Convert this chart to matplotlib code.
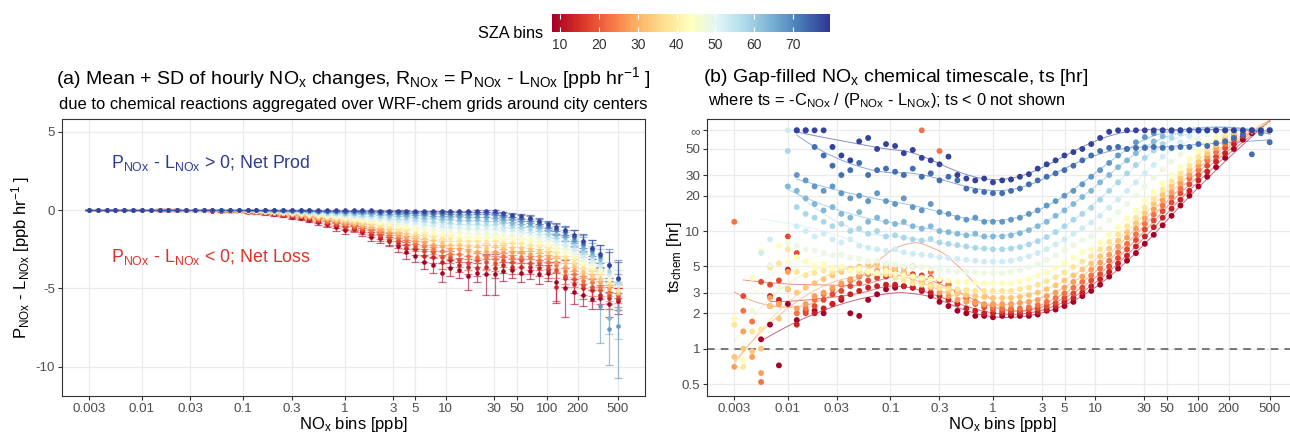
import numpy as np
import matplotlib
matplotlib.use("Agg")
import matplotlib.pyplot as plt
from matplotlib.colors import Normalize
from matplotlib.cm import ScalarMappable
from matplotlib.ticker import FixedLocator, NullLocator

plt.rcParams["font.family"] = ["Liberation Sans", "DejaVu Sans"]
plt.rcParams["mathtext.fontset"] = "custom"
plt.rcParams["mathtext.rm"] = "Liberation Sans"
plt.rcParams["mathtext.it"] = "Liberation Sans:italic"
plt.rcParams["mathtext.bf"] = "Liberation Sans:bold"

# NOx bin centres [ppb]
nox_bins = [0.003, 0.00367, 0.00448, 0.00547, 0.00669, 0.00817, 0.00998, 0.0122, 0.0149, 0.0182,
            0.0223, 0.0272, 0.0332, 0.0406, 0.0496, 0.0606, 0.0741, 0.0905, 0.111, 0.135,
            0.165, 0.202, 0.247, 0.301, 0.368, 0.450, 0.550, 0.672, 0.821, 1.00,
            1.23, 1.50, 1.83, 2.24, 2.73, 3.34, 4.08, 4.98, 6.09, 7.44,
            9.09, 11.1, 13.6, 16.6, 20.3, 24.8, 30.3, 37.0, 45.2, 55.2,
            67.4, 82.4, 101, 123, 150, 184, 224, 274, 335, 410, 500]

sza_bins = [8, 13, 18, 23, 28, 33, 38, 43, 48, 53, 58, 63, 68, 73, 78]

# (a) mean P - L [ppb/hr] per SZA bin
rate_sza08 = [0.0] * 8 + [-0.01, -0.01, -0.01, -0.02, -0.02, -0.03, -0.04, -0.05, -0.07, -0.09, -0.12, -0.15, -0.2, -0.26, -0.33, -0.42, -0.5, -0.62, -0.75, -0.9, -1.1, -1.25, -1.15, -1.4, -1.7, -1.8, -2.0, -2.3, -2.7, -2.9, -3.3, -3.5, -4.0, -3.7, -3.8, -4.2, -4.0, -4.1, -4.1, -3.9, -3.8, -4.0, -3.9, -4.1, -4.0, -4.6, -5.0, -5.2, -5.4, -5.7, -5.6, -6.0, -5.8]
rate_sza13 = [0.0] * 8 + [-0.01, -0.01, -0.01, -0.02, -0.02, -0.03, -0.04, -0.05, -0.06, -0.08, -0.11, -0.14, -0.18, -0.23, -0.3, -0.36, -0.45, -0.56, -0.68, -0.81, -0.95, -1.1, -1.2, -1.35, -1.5, -1.7, -1.9, -2.1, -2.4, -2.5, -2.9, -3.0, -3.3, -3.2, -3.5, -3.6, -3.7, -3.6, -3.7, -3.5, -3.6, -3.6, -3.6, -3.7, -3.8, -4.9, -4.3, -4.7, -5.0, -5.1, -5.4, -5.6, -5.7]
rate_sza18 = [0.0] * 8 + [-0.01, -0.01, -0.01, -0.02, -0.02, -0.02, -0.03, -0.04, -0.06, -0.07, -0.1, -0.12, -0.16, -0.21, -0.27, -0.33, -0.41, -0.51, -0.62, -0.74, -0.86, -1.0, -1.1, -1.2, -1.4, -1.6, -1.7, -1.9, -2.2, -2.3, -2.6, -2.7, -3.0, -3.0, -3.2, -3.4, -3.2, -3.3, -3.4, -3.2, -3.3, -3.2, -3.4, -3.4, -3.6, -3.8, -4.2, -4.4, -4.8, -4.9, -5.1, -5.4, -5.5]
rate_sza23 = [0.0] * 8 + [-0.01, -0.01, -0.01, -0.01, -0.01, -0.02, -0.03, -0.04, -0.05, -0.07, -0.09, -0.11, -0.15, -0.19, -0.24, -0.3, -0.37, -0.46, -0.56, -0.67, -0.78, -0.9, -1.0, -1.1, -1.3, -1.4, -1.6, -1.7, -1.9, -2.1, -2.3, -2.5, -2.6, -2.8, -2.8, -2.9, -3.0, -3.0, -3.1, -2.9, -3.0, -3.0, -3.0, -3.2, -3.3, -3.5, -3.9, -4.1, -4.5, -4.6, -4.9, -5.2, -5.3]
rate_sza28 = [0.0] * 8 + [0.0, -0.01, -0.01, -0.01, -0.01, -0.02, -0.03, -0.03, -0.05, -0.06, -0.08, -0.1, -0.13, -0.17, -0.22, -0.26, -0.33, -0.41, -0.5, -0.59, -0.69, -0.8, -0.9, -1.0, -1.1, -1.3, -1.4, -1.6, -1.7, -1.9, -2.1, -2.2, -2.3, -2.5, -2.5, -2.6, -2.7, -2.6, -2.7, -2.6, -2.7, -2.7, -2.8, -2.9, -3.0, -3.3, -3.6, -3.8, -4.2, -4.4, -4.6, -5.0, -5.3]
rate_sza33 = [0.0] * 8 + [0.0, 0.0, -0.01, -0.01, -0.01, -0.02, -0.02, -0.03, -0.04, -0.05, -0.07, -0.09, -0.12, -0.15, -0.19, -0.23, -0.29, -0.36, -0.44, -0.52, -0.61, -0.7, -0.8, -0.9, -1.0, -1.1, -1.2, -1.4, -1.5, -1.7, -1.8, -1.9, -2.1, -2.2, -2.2, -2.3, -2.3, -2.4, -2.3, -2.4, -2.4, -2.4, -2.5, -2.6, -2.7, -3.0, -3.3, -3.5, -3.9, -4.2, -4.4, -4.8, -5.2]
rate_sza38 = [0.0] * 8 + [0.0, 0.0, 0.0, -0.01, -0.01, -0.01, -0.02, -0.02, -0.03, -0.04, -0.06, -0.07, -0.1, -0.13, -0.16, -0.2, -0.25, -0.31, -0.38, -0.45, -0.53, -0.6, -0.68, -0.75, -0.85, -0.95, -1.05, -1.2, -1.3, -1.4, -1.6, -1.7, -1.8, -1.8, -1.9, -2.0, -2.0, -2.0, -2.0, -2.1, -2.1, -2.1, -2.2, -2.3, -2.5, -2.7, -3.0, -3.3, -3.6, -3.9, -4.1, -4.6, -5.1]
rate_sza43 = [0.0] * 8 + [0.0, 0.0, 0.0, -0.01, -0.01, -0.01, -0.02, -0.02, -0.03, -0.04, -0.05, -0.06, -0.08, -0.11, -0.14, -0.17, -0.21, -0.26, -0.32, -0.38, -0.44, -0.5, -0.57, -0.63, -0.71, -0.8, -0.88, -1.0, -1.1, -1.2, -1.3, -1.4, -1.5, -1.6, -1.6, -1.7, -1.7, -1.7, -1.7, -1.8, -1.8, -1.9, -1.9, -2.1, -2.2, -2.5, -2.7, -3.0, -3.4, -3.6, -3.9, -4.4, -4.3]
rate_sza48 = [0.0] * 8 + [0.0, 0.0, 0.0, 0.0, -0.01, -0.01, -0.01, -0.02, -0.02, -0.03, -0.04, -0.05, -0.07, -0.09, -0.11, -0.14, -0.17, -0.21, -0.26, -0.31, -0.36, -0.41, -0.46, -0.51, -0.58, -0.65, -0.71, -0.8, -0.88, -0.97, -1.05, -1.1, -1.2, -1.3, -1.3, -1.3, -1.4, -1.4, -1.4, -1.4, -1.5, -1.6, -1.6, -1.8, -1.9, -2.2, -2.4, -2.7, -3.1, -3.4, -3.7, -4.2, -4.8]
rate_sza53 = [0.0] * 8 + [0.0, 0.0, 0.0, 0.0, 0.0, -0.01, -0.01, -0.01, -0.02, -0.02, -0.03, -0.04, -0.05, -0.07, -0.09, -0.11, -0.14, -0.17, -0.2, -0.24, -0.28, -0.32, -0.36, -0.41, -0.46, -0.51, -0.57, -0.63, -0.7, -0.77, -0.84, -0.9, -0.96, -1.0, -1.0, -1.1, -1.1, -1.1, -1.1, -1.2, -1.2, -1.3, -1.4, -1.5, -1.7, -1.9, -2.2, -2.5, -2.9, -3.2, -3.5, -4.1, -4.7]
rate_sza58 = [0.0] * 14 + [-0.01, -0.01, -0.01, -0.02, -0.02, -0.03, -0.04, -0.05, -0.07, -0.08, -0.1, -0.12, -0.15, -0.18, -0.21, -0.24, -0.27, -0.3, -0.34, -0.38, -0.42, -0.47, -0.52, -0.57, -0.62, -0.67, -0.71, -0.74, -0.77, -0.79, -0.8, -0.81, -0.8, -0.9, -1.0, -1.1, -1.2, -1.3, -1.5, -1.7, -1.9, -2.2, -2.6, -2.9, -3.3, -3.9, -4.6]
rate_sza63 = [0.0] * 16 + [-0.01, -0.01, -0.02, -0.02, -0.03, -0.04, -0.05, -0.06, -0.07, -0.09, -0.11, -0.13, -0.15, -0.17, -0.19, -0.21, -0.24, -0.27, -0.29, -0.33, -0.36, -0.4, -0.43, -0.47, -0.5, -0.52, -0.54, -0.55, -0.56, -0.57, -0.6, -0.7, -0.8, -0.9, -0.9, -1.1, -1.3, -1.5, -1.7, -2.0, -2.4, -2.8, -3.1, -6.9, -6.4]
rate_sza68 = [0.0] * 18 + [-0.01, -0.01, -0.02, -0.02, -0.03, -0.04, -0.05, -0.06, -0.07, -0.08, -0.09, -0.11, -0.12, -0.14, -0.15, -0.17, -0.19, -0.21, -0.23, -0.26, -0.28, -0.3, -0.32, -0.33, -0.35, -0.36, -0.36, -0.36, -0.4, -0.5, -0.6, -0.7, -0.8, -0.9, -1.1, -1.3, -1.6, -1.9, -2.2, -2.6, -6.1, -7.6, -7.4]
rate_sza73 = [0.0] * 20 + [-0.01, -0.01, -0.02, -0.02, -0.03, -0.03, -0.04, -0.05, -0.05, -0.06, -0.07, -0.08, -0.09, -0.1, -0.11, -0.12, -0.13, -0.14, -0.16, -0.17, -0.18, -0.19, -0.19, -0.2, -0.2, -0.2, -0.2, -0.3, -0.4, -0.5, -0.6, -0.8, -1.0, -1.2, -1.4, -1.7, -2.1, -2.5, -2.9, -3.5, -4.4]
rate_sza78 = [0.0] * 24 + [-0.01, -0.01, -0.02, -0.02, -0.02, -0.02, -0.03, -0.03, -0.03, -0.04, -0.04, -0.05, -0.05, -0.06, -0.06, -0.07, -0.07, -0.07, -0.08, -0.08, -0.08, -0.08, -0.08, -0.2, -0.3, -0.4, -0.5, -0.7, -0.9, -1.1, -1.3, -1.6, -2.0, -2.4, -2.8, -3.5, -4.3]

# (a) standard deviation per SZA bin
sd_sza08 = [0.03] * 8 + [0.05] * 10 + [0.08, 0.08, 0.1, 0.1, 0.12, 0.12, 0.15, 0.15, 0.18, 0.2, 0.25, 0.25, 0.2, 0.25, 0.3, 0.3, 0.3, 0.35, 0.45, 0.4, 0.45, 0.5, 0.6, 0.5, 0.5, 0.9, 0.6, 1.3, 1.3, 0.6, 0.5, 0.6, 0.5, 0.6, 0.5, 1.3, 1.8, 0.8, 0.7, 0.6, 0.7, 0.8, 0.8]
sd_sza13 = [0.03] * 8 + [0.05] * 10 + [0.08, 0.08, 0.1, 0.1, 0.1, 0.12, 0.12, 0.15, 0.15, 0.18, 0.2, 0.2, 0.2, 0.2, 0.25, 0.3, 0.3, 0.3, 0.35, 0.35, 0.4, 0.4, 0.45, 0.4, 0.45, 0.5, 0.5, 0.5, 0.6, 0.5, 0.5, 0.5, 0.5, 0.5, 0.5, 0.9, 0.6, 0.6, 0.7, 0.7, 0.6, 0.7, 0.7]
sd_sza18 = [0.03] * 8 + [0.05] * 10 + [0.07, 0.08, 0.08, 0.1, 0.1, 0.1, 0.12, 0.12, 0.15, 0.15, 0.18, 0.18, 0.2, 0.2, 0.2, 0.25, 0.25, 0.3, 0.3, 0.3, 0.35, 0.35, 0.4, 0.4, 0.4, 0.45, 0.45, 0.45, 0.5, 0.45, 0.45, 0.45, 0.45, 0.45, 0.5, 0.5, 0.5, 0.5, 0.6, 0.6, 0.6, 0.6, 0.7]
sd_sza23 = [0.03] * 8 + [0.04] * 10 + [0.06, 0.07, 0.08, 0.08, 0.1, 0.1, 0.1, 0.12, 0.12, 0.15, 0.15, 0.15, 0.18, 0.18, 0.2, 0.2, 0.22, 0.25, 0.25, 0.3, 0.3, 0.3, 0.35, 0.35, 0.35, 0.4, 0.4, 0.8, 0.4, 0.4, 0.4, 0.4, 0.4, 0.45, 0.45, 0.45, 0.5, 0.5, 0.5, 0.5, 0.6, 0.6, 0.6]
sd_sza28 = [0.03] * 8 + [0.04] * 10 + [0.05, 0.06, 0.07, 0.08, 0.08, 0.08, 0.1, 0.1, 0.12, 0.12, 0.12, 0.15, 0.15, 0.15, 0.18, 0.18, 0.2, 0.2, 0.22, 0.25, 0.25, 0.3, 0.3, 0.3, 0.3, 0.35, 0.35, 0.35, 0.35, 0.35, 0.35, 0.35, 0.35, 0.4, 0.4, 0.4, 0.45, 0.45, 0.5, 0.5, 0.5, 0.5, 0.6]
sd_sza33 = [0.03] * 8 + [0.04] * 10 + [0.05, 0.05, 0.06, 0.07, 0.07, 0.08, 0.08, 0.1, 0.1, 0.1, 0.12, 0.12, 0.12, 0.15, 0.15, 0.15, 0.18, 0.18, 0.2, 0.2, 0.22, 0.25, 0.25, 0.25, 0.25, 0.3, 0.3, 0.3, 0.3, 0.3, 0.3, 0.3, 0.3, 0.35, 0.35, 0.35, 0.4, 0.4, 0.45, 0.45, 0.5, 0.5, 0.5]
sd_sza38 = [0.02] * 8 + [0.03] * 10 + [0.04, 0.05, 0.05, 0.06, 0.06, 0.07, 0.07, 0.08, 0.08, 0.1, 0.1, 0.1, 0.1, 0.12, 0.12, 0.12, 0.15, 0.15, 0.15, 0.18, 0.18, 0.2, 0.2, 0.2, 0.2, 0.25, 0.25, 0.25, 0.25, 0.25, 0.25, 0.25, 0.25, 0.3, 0.3, 0.3, 0.35, 0.35, 0.4, 0.4, 0.45, 0.5, 0.5]
sd_sza43 = [0.02] * 8 + [0.03] * 10 + [0.04, 0.04, 0.05, 0.05, 0.05, 0.06, 0.06, 0.07, 0.07, 0.08, 0.08, 0.08, 0.08, 0.1, 0.1, 0.1, 0.12, 0.12, 0.12, 0.15, 0.15, 0.15, 0.15, 0.15, 0.18, 0.18, 0.18, 0.2, 0.2, 0.2, 0.2, 0.2, 0.22, 0.25, 0.25, 0.3, 0.3, 0.3, 0.35, 0.4, 0.4, 0.45, 0.5]
sd_sza48 = [0.02] * 8 + [0.03] * 10 + [0.03, 0.04, 0.04, 0.04, 0.05, 0.05, 0.05, 0.06, 0.06, 0.06, 0.07, 0.07, 0.07, 0.08, 0.08, 0.08, 0.1, 0.1, 0.1, 0.12, 0.12, 0.12, 0.12, 0.12, 0.15, 0.15, 0.15, 0.15, 0.15, 0.18, 0.18, 0.2, 0.2, 0.22, 0.25, 0.25, 0.3, 0.3, 0.35, 0.4, 0.4, 0.5, 0.5]
sd_sza53 = [0.02] * 8 + [0.03] * 10 + [0.03, 0.03, 0.03, 0.04, 0.04, 0.04, 0.04, 0.05, 0.05, 0.05, 0.06, 0.06, 0.06, 0.06, 0.07, 0.07, 0.08, 0.08, 0.08, 0.1, 0.1, 0.1, 0.1, 0.1, 0.12, 0.12, 0.12, 0.12, 0.12, 0.15, 0.15, 0.18, 0.2, 0.2, 0.22, 0.25, 0.3, 0.3, 0.35, 0.4, 0.45, 0.5, 0.6]
sd_sza58 = [0.02] * 18 + [0.03, 0.03, 0.03, 0.03, 0.03, 0.03, 0.03, 0.04, 0.04, 0.04, 0.05, 0.05, 0.05, 0.05, 0.06, 0.06, 0.06, 0.07, 0.07, 0.07, 0.08, 0.08, 0.08, 0.08, 0.1, 0.1, 0.1, 0.12, 0.12, 0.15, 0.15, 0.18, 0.2, 0.2, 0.25, 0.25, 0.3, 0.35, 0.4, 0.45, 0.5, 0.6, 0.8]
sd_sza63 = [0.02] * 30 + [0.03, 0.04, 0.04, 0.04, 0.05, 0.05, 0.05, 0.06, 0.06, 0.06, 0.06, 0.07, 0.07, 0.08, 0.1, 0.1, 0.12, 0.15, 0.15, 0.18, 0.2, 0.22, 0.25, 0.3, 0.3, 0.35, 0.4, 0.5, 0.6, 1.0, 1.8]
sd_sza68 = [0.02] * 30 + [0.03, 0.03, 0.03, 0.03, 0.04, 0.04, 0.04, 0.04, 0.05, 0.05, 0.05, 0.05, 0.06, 0.07, 0.08, 0.1, 0.12, 0.15, 0.15, 0.18, 0.2, 0.22, 0.25, 0.3, 0.35, 0.4, 0.45, 0.5, 2.4, 2.3, 3.3]
sd_sza73 = [0.02] * 32 + [0.03, 0.03, 0.03, 0.03, 0.03, 0.04, 0.04, 0.04, 0.04, 0.04, 0.05, 0.05, 0.06, 0.08, 0.1, 0.12, 0.15, 0.18, 0.2, 0.22, 0.25, 0.3, 0.35, 0.4, 0.5, 0.6, 0.7, 1.0, 1.2]
sd_sza78 = [0.02] * 41 + [0.03, 0.03, 0.04, 0.05, 0.06, 0.08, 0.1, 0.12, 0.15, 0.18, 0.2, 0.22, 0.25, 0.3, 0.35, 0.45, 0.5, 0.6, 0.8, 1.0]

# (b) chemical timescale [hr]; 72 stands for the infinite (gap-filled) value
ts_sza08 = [None, None, None, 1.2, 1.6, 0.72, 2.4, 1.75, None, 2.1,
            2.0, 2.4, 2.6, 2.0, 1.9, 2.6, 2.9, 3.2, 3.3, 3.4,
            3.3, 3.1, 2.8, 2.5, 2.3, 2.1, 2.0, 1.9, 1.9, 1.85,
            1.9, 1.9, 1.9, 1.9, 1.95, 2.1, 2.15, 2.3, 2.5, 2.8,
            3.1, 3.5, 4.1, 4.8, 5.6, 6.5, 7.8, 9.3, 11.2, 13.5,
            16.5, 20, 24, 29, 35, 42, 50, 60, 68, 72, 72]
ts_sza13 = [None, None, None, None, 2.8, 2.6, 4.7, 1.6, 2.1, 2.0,
            2.2, 2.4, 2.7, 2.9, 3.1, 3.3, 3.4, 3.5, 3.5, 3.4,
            3.3, 3.2, 3.0, 2.8, 2.6, 2.4, 2.2, 2.1, 2.0, 2.0,
            2.0, 2.0, 2.0, 2.0, 2.05, 2.15, 2.3, 2.5, 2.7, 3.0,
            3.4, 3.9, 4.5, 5.3, 6.2, 7.4, 9.0, 10.8, 13, 15.5,
            18.5, 22, 27, 32, 39, 46, 55, 64, 70, 72, 72]
ts_sza18 = [None, 2.8, None, 3.7, 3.5, 3.8, 9.0, 6.5, 2.0, 2.3,
            2.6, 2.9, 3.1, 3.4, 3.6, 3.8, 4.0, 4.1, 4.2, 4.3,
            4.3, 4.2, 4.0, 3.8, 3.5, 3.1, 2.7, 2.4, 2.25, 2.15,
            2.1, 2.1, 2.1, 2.15, 2.2, 2.3, 2.45, 2.7, 2.95, 3.3,
            3.8, 4.3, 5.0, 5.9, 7.0, 8.4, 10.3, 12.3, 14.8, 17.5,
            21, 25, 30, 36, 43, 51, 60, 68, 72, 72, 72]
ts_sza23 = [12, 2.1, 1.7, 0.52, 2.3, 2.4, 3.2, 2.0, 2.2, 2.6,
            2.9, 3.2, 3.5, 3.8, 4.1, 4.3, 4.5, 4.7, 4.8, 4.9,
            5.0, 72, 4.5, 48, 3.5, 3.0, 2.7, 2.5, 2.35, 2.25,
            2.2, 2.2, 2.2, 2.25, 2.35, 2.5, 2.7, 2.95, 3.3, 3.7,
            4.2, 4.8, 5.6, 6.6, 7.8, 9.4, 11.5, 13.8, 16.5, 19.5,
            23, 28, 33, 40, 47, 55, 64, 70, 72, 72, 72]
ts_sza28 = [0.7, 1.4, 0.85, 0.62, 2.7, 2.4, 4.5, 2.2, 2.4, 2.8,
            3.0, 3.3, 3.6, 3.9, 4.2, 4.4, 4.6, 4.7, 4.6, 4.4,
            4.0, 3.6, 3.3, 3.0, 2.8, 2.6, 2.5, 2.45, 2.4, 2.4,
            2.4, 2.4, 2.45, 2.5, 2.6, 2.8, 3.0, 3.3, 3.7, 4.1,
            4.7, 5.4, 6.3, 7.4, 8.8, 10.5, 12.8, 15.3, 18.3, 21.5,
            25.5, 30, 36, 43, 51, 59, 67, 72, 72, 72, 72]
ts_sza33 = [0.85, 1.0, 0.95, 1.0, 2.3, 1.8, 3.2, 3.0, 3.3, 3.6,
            3.9, 4.2, 4.5, 4.8, 5.0, 5.2, 5.2, 5.0, 4.8, 4.5,
            4.1, 3.8, 3.5, 3.3, 3.1, 2.95, 2.85, 2.8, 2.75, 2.7,
            2.7, 2.7, 2.75, 2.85, 3.0, 3.2, 3.45, 3.8, 4.2, 4.7,
            5.3, 6.1, 7.1, 8.3, 9.8, 11.7, 14.2, 17, 20.3, 24,
            28, 33, 39, 46, 54, 62, 69, 72, 72, 72, 72]
ts_sza38 = [1.6, 0.7, 1.4, 1.45, 4.9, 5.3, 7.0, 4.5, 4.2, 4.4,
            4.6, 4.5, 4.8, 4.7, 4.5, 4.6, 4.4, 4.3, 4.0, 3.8,
            3.6, 3.5, 3.4, 3.3, 3.25, 3.2, 3.15, 3.1, 3.1, 3.1,
            3.1, 3.1, 3.2, 3.3, 3.5, 3.75, 4.05, 4.45, 4.95, 5.5,
            6.1, 7.0, 8.1, 9.4, 11, 13, 15.8, 18.8, 22.5, 26.5,
            31, 36, 43, 50, 58, 66, 72, 72, 72, 72, 72]
ts_sza43 = [1.8, 0.8, 4.0, 6.8, None, 7.5, 5.5, 6.0, 5.5, 5.0,
            5.2, 4.8, 5.0, 4.6, 4.8, 4.5, 4.4, 4.6, 4.3, 4.2,
            4.1, 4.0, 3.9, 3.9, 3.8, 3.7, 3.7, 3.65, 3.6, 3.6,
            3.6, 3.6, 3.7, 3.9, 4.15, 4.45, 4.85, 5.35, 5.95, 6.6,
            7.0, 8.0, 9.3, 10.8, 12.7, 15, 18, 21.5, 25.5, 30,
            35, 41, 48, 56, 64, 70, 72, 72, 72, 72, 72]
ts_sza48 = [None, None, 2.1, None, 5.2, 3.3, 8.0, 7.5, 7.0, 6.8,
            6.5, 6.2, 6.3, 5.9, 5.8, 5.5, 5.6, 5.3, 5.2, 5.0,
            5.0, 4.9, 4.8, 4.7, 4.6, 4.5, 4.5, 4.45, 4.4, 4.4,
            4.4, 4.5, 4.65, 4.9, 5.25, 5.7, 6.25, 6.9, 7.6, 8.4,
            9.0, 10.5, 12.3, 14.5, 17, 20, 24, 28.5, 33.5, 39,
            45, 52, 59, 66, 71, 72, 72, 72, 72, 72, 72]
ts_sza53 = [None, None, None, 6.5, 8.5, None, 72, 11, 10, 9.0,
            9.5, 8.5, 8.0, 8.5, 7.5, 7.2, 7.0, 6.8, 7.0, 6.6,
            6.4, 6.3, 6.2, 6.0, 5.9, 5.8, 5.7, 5.6, 5.5, 5.5,
            5.5, 5.6, 5.8, 6.1, 6.5, 7.0, 7.7, 8.5, 9.5, 10.6,
            11.8, 13.5, 15.8, 18.5, 22, 26, 31, 36.5, 43, 50,
            57, 64, 70, 72, 72, 72, 72, 72, 72, 72, 72]
ts_sza58 = [None, None, None, None, None, None, 48, 16, 14, 13,
            12, 11, 11.5, 10, 10.5, 9.5, 10, 9.0, 9.2, 8.8,
            8.5, 8.3, 8.6, 8.0, 7.8, 7.6, 7.4, 7.2, 7.1, 7.0,
            7.0, 7.1, 7.3, 7.7, 8.2, 8.9, 9.8, 11, 12.5, 14,
            15.8, 18.5, 22, 26, 31, 36.5, 42, 48.5, 55, 62,
            68, 72, 72, 72, 72, 72, 72, 72, 72, 72, 72]
ts_sza63 = [None, None, None, None, None, None, 24, 22, 19, 17,
            15, 16, 14, 13, 14.5, 12, 13, 12, 11.5, 12,
            11, 10.5, 11, 10, 9.8, 9.5, 9.2, 9.5, 9.0, 9.0,
            9.0, 9.2, 9.6, 10.2, 11, 12, 13.5, 15, 17, 19.5,
            22, 26, 30, 35, 40, 46, 52, 58, 64, 70,
            72, 72, 72, 72, 72, 72, 72, 72, 72, 72, 72]
ts_sza68 = [None, None, None, None, None, None, None, 30, 27, 24,
            22, 24, 21, 19, 20, 18, 21, 18, 17, 19,
            16, 15, 17, 14.5, 14, 13, 12.5, 13, 12, 12,
            12, 12.5, 13, 14, 15, 16.5, 18, 20, 22, 25,
            29, 33, 38, 44, 50, 57, 63, 68, 72, 72,
            72, 72, 72, 72, 72, 72, 72, 72, 72, 72, 72]
ts_sza73 = [None, None, None, None, None, None, None, 72, 72, 52,
            44, 36, 30, 33, 38, 30, 33, 34, 32, 30,
            34, 29, 31, 27, 29, 27, 23, 22, 21.5, 21,
            21, 22, 23, 25, 27, 29, 31, 33, 36, 40,
            44, 48, 51, 52, 50, 51, 51, 52, 51, 51,
            52, 52, 55, 53, 56, 58, 62, 66, 45, 68, 57]
ts_sza78 = [None, None, None, None, None, None, None, 72, 72, 72,
            72, 52, 44, 40, 58, 62, 50, 55, 53, 46,
            49, 42, 40, 37, 43, 30, 28, 27, 28, 26,
            27, 27.5, 29, 30.5, 34, 37, 40, 44, 47, 50,
            55, 62, 70, 72, 72, 72, 72, 72, 72, 72,
            72, 72, 72, 72, 72, 72, 72, 72, 72, 72, 72]

rate_series = [rate_sza08, rate_sza13, rate_sza18, rate_sza23, rate_sza28, rate_sza33, rate_sza38,
               rate_sza43, rate_sza48, rate_sza53, rate_sza58, rate_sza63, rate_sza68, rate_sza73, rate_sza78]
sd_series = [sd_sza08, sd_sza13, sd_sza18, sd_sza23, sd_sza28, sd_sza33, sd_sza38,
             sd_sza43, sd_sza48, sd_sza53, sd_sza58, sd_sza63, sd_sza68, sd_sza73, sd_sza78]
ts_series = [ts_sza08, ts_sza13, ts_sza18, ts_sza23, ts_sza28, ts_sza33, ts_sza38,
             ts_sza43, ts_sza48, ts_sza53, ts_sza58, ts_sza63, ts_sza68, ts_sza73, ts_sza78]

x_ticks = [0.003, 0.01, 0.03, 0.1, 0.3, 1, 3, 5, 10, 30, 50, 100, 200, 500]
x_labels = ["0.003", "0.01", "0.03", "0.1", "0.3", "1", "3", "5", "10", "30", "50", "100", "200", "500"]
ts_ticks = [0.5, 1, 2, 3, 5, 10, 20, 30, 50, 72]
ts_labels = ["0.5", "1", "2", "3", "5", "10", "20", "30", "50", "\u221e"]


def loess(x, y, span=0.45, n_out=80):
    # local quadratic regression with tricube weights
    n = len(x)
    q = max(int(np.ceil(span * n)), 4)
    xs = np.linspace(x.min(), x.max(), n_out)
    ys = np.empty(n_out)
    for i, x0 in enumerate(xs):
        d = np.abs(x - x0)
        idx = np.argsort(d)[:q]
        dmax = d[idx].max() * 1.0001
        w = (1 - (d[idx] / dmax) ** 3) ** 3
        coef = np.polyfit(x[idx], y[idx], 2, w=np.sqrt(w))
        ys[i] = np.polyval(coef, x0)
    return xs, ys


def style_axes(ax):
    ax.set_xscale("log")
    ax.set_xlim(10 ** -2.7894, 10 ** 2.9655)
    ax.xaxis.set_major_locator(FixedLocator(x_ticks))
    ax.set_xticklabels(x_labels)
    ax.xaxis.set_minor_locator(NullLocator())
    ax.grid(True, color="#ebebeb", lw=0.9)
    ax.set_axisbelow(True)
    for sp in ax.spines.values():
        sp.set_color("#333333")
        sp.set_linewidth(0.8)
    ax.tick_params(length=3, width=0.8, color="#333333", labelcolor="#4d4d4d", labelsize=9.6, pad=2)


cmap = plt.get_cmap("RdYlBu")
norm = Normalize(7.9, 79.5)
x_arr = np.array(nox_bins)

fig = plt.figure(figsize=(12.9, 4.33), dpi=100)
W, H = 1290, 433
ax1 = fig.add_axes([62 / W, 37 / H, 583 / W, 277 / H])
ax2 = fig.add_axes([707 / W, 37 / H, 590 / W, 277 / H])

# panel (a): mean with SD bars
for sza, mean, sd in zip(sza_bins, rate_series, sd_series):
    c = cmap(norm(sza))
    ax1.errorbar(nox_bins, mean, yerr=sd, fmt="none", ecolor=c, alpha=0.6,
                 elinewidth=0.9, capsize=2.8, capthick=0.9, zorder=2)
    ax1.plot(nox_bins, mean, "o", ms=3.3, color=c, mec="none", zorder=3)

style_axes(ax1)
ax1.set_ylim(-11.85, 5.8)
ax1.yaxis.set_major_locator(FixedLocator([-10, -5, 0, 5]))
ax1.set_yticklabels(["-10", "-5", "0", "5"])
ax1.text(0.005, 3, r"P$_\mathrm{NOx}$ - L$_\mathrm{NOx}$ > 0; Net Prod", color="#2e3a96",
         ha="left", va="center", size=12.8)
ax1.text(0.005, -3, r"P$_\mathrm{NOx}$ - L$_\mathrm{NOx}$ < 0; Net Loss", color="#e0302a",
         ha="left", va="center", size=12.8)

# panel (b): timescale points with smoothed curves
for sza, ts in zip(sza_bins, ts_series):
    y = np.array(ts, dtype=float)
    ok = np.isfinite(y)
    x, y = x_arr[ok], y[ok]
    c = cmap(norm(sza))
    lx, ly = loess(np.log10(x), np.log10(y))
    ax2.plot(10 ** lx, 10 ** ly, color=c, lw=0.7, alpha=0.6, zorder=2)
    ax2.scatter(x, y, s=18, color=c, edgecolors="none", zorder=3)

ax2.axhline(1, color="#555555", ls=(0, (5, 4)), lw=1.1, zorder=2.5)
style_axes(ax2)
ax2.set_yscale("log")
ax2.set_ylim(0.3954, 89.9)
ax2.yaxis.set_major_locator(FixedLocator(ts_ticks))
ax2.yaxis.set_minor_locator(NullLocator())
ax2.set_yticklabels(ts_labels)

# titles and axis labels
fig.text(353.5 / W, 1 - 78 / H,
         r"(a) Mean + SD of hourly NO$_\mathrm{x}$ changes, R$_\mathrm{NOx}$ = P$_\mathrm{NOx}$ - L$_\mathrm{NOx}$ [ppb hr$^{-1}$ ]",
         ha="center", va="center", size=14)
fig.text(353.5 / W, 1 - 104 / H,
         "due to chemical reactions aggregated over WRF-chem grids around city centers",
         ha="center", va="center", size=11.9)
fig.text(703 / W, 1 - 77 / H, r"(b) Gap-filled NO$_\mathrm{x}$ chemical timescale, ts [hr]",
         ha="left", va="center", size=14)
fig.text(708 / W, 1 - 101 / H,
         r"where ts = -C$_\mathrm{NOx}$ / (P$_\mathrm{NOx}$ - L$_\mathrm{NOx}$); ts < 0 not shown",
         ha="left", va="center", size=11.8)

fig.text(21 / W, 1 - 257 / H, r"P$_\mathrm{NOx}$ - L$_\mathrm{NOx}$ [ppb hr$^{-1}$ ]",
         rotation=90, ha="center", va="center", size=12)
fig.text(675 / W, 1 - 257 / H, r"ts$_\mathrm{chem}$ [hr]",
         rotation=90, ha="center", va="center", size=12)
fig.text(353.5 / W, 1 - 424 / H, r"NO$_\mathrm{x}$ bins [ppb]", ha="center", va="center", size=12)
fig.text(1002 / W, 1 - 424 / H, r"NO$_\mathrm{x}$ bins [ppb]", ha="center", va="center", size=12)

# colour bar for SZA
cax = fig.add_axes([552 / W, 1 - 32 / H, 278 / W, 18 / H])
cb = fig.colorbar(ScalarMappable(norm=norm, cmap=cmap), cax=cax, orientation="horizontal")
cb.set_ticks([10, 20, 30, 40, 50, 60, 70])
cb.outline.set_visible(False)
cax.tick_params(direction="in", color="white", length=3.5, width=0.8, top=True, bottom=True,
                labelsize=10, labelcolor="#333333", pad=4)
fig.text(543 / W, 1 - 34 / H, "SZA bins", ha="right", va="center", size=11.7)

fig.savefig("out.png", dpi=100)
